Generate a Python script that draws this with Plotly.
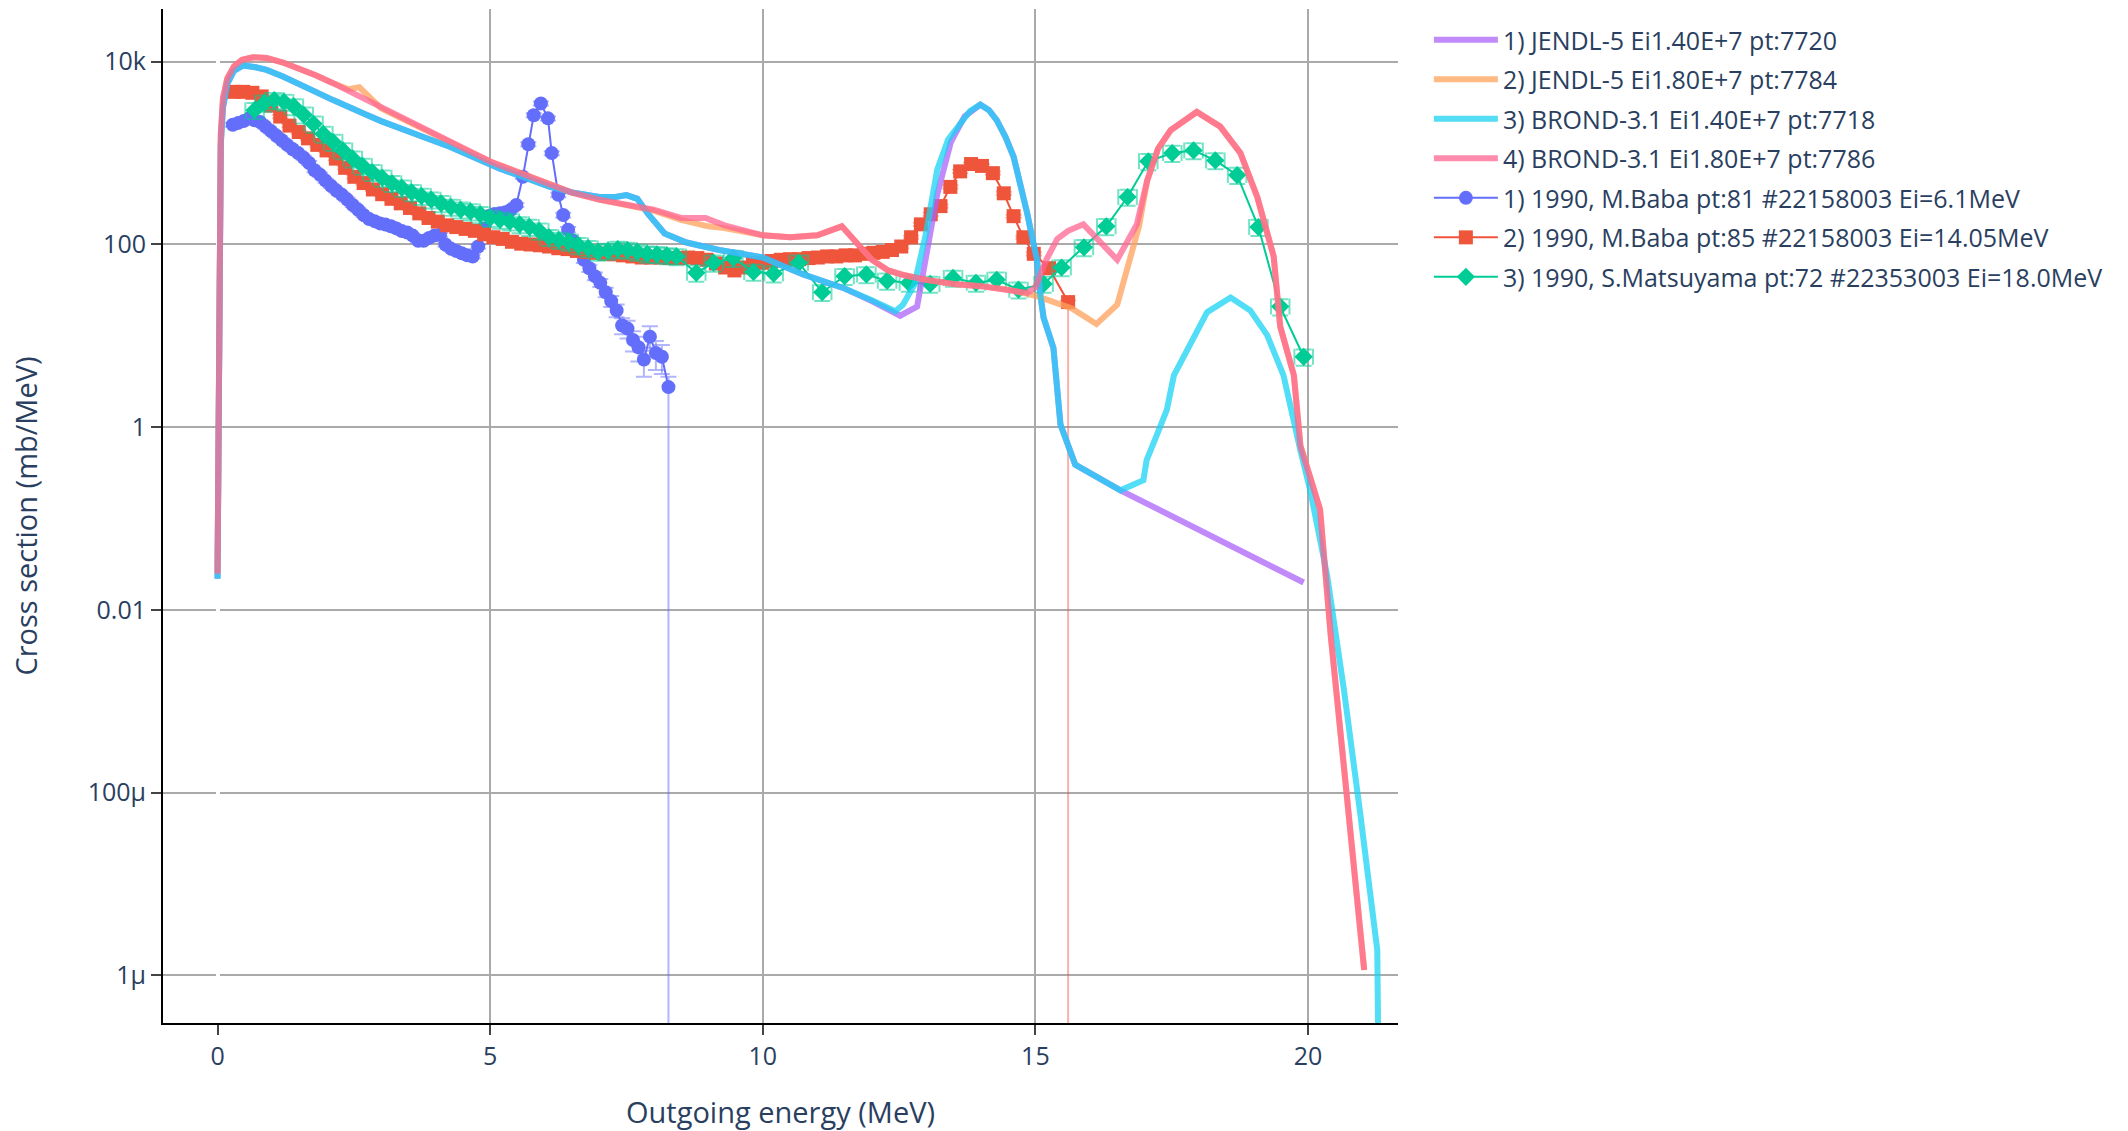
import plotly.graph_objects as go

# ---------------- Evaluated data (outgoing energy MeV, cross section mb/MeV) ----------------
jendl14_x = [0.0, 0.01, 0.02, 0.03, 0.04, 0.06, 0.1, 0.18, 0.3, 0.47, 0.7, 0.9, 1.2, 1.51, 1.8, 2.12, 2.4, 2.73,
             3.0, 3.34, 3.8, 4.26, 4.7, 5.18, 5.6, 6.1, 6.5, 7.0, 7.3, 7.5, 7.7, 7.9, 8.2, 8.6, 9.2, 10.0, 10.74,
             11.5, 12.0, 12.52, 12.83, 13.0, 13.2, 13.45, 13.7, 13.99, 14.15, 14.29, 14.45, 14.6, 14.73, 14.85,
             14.95, 15.03, 15.09, 15.15, 15.33, 15.40, 15.46, 15.73, 16.56, 19.92]
jendl14_y = [0.022, 0.2, 5, 80, 400, 1260, 3160, 5750, 7940, 9100, 8700, 8130, 6900, 5750, 4680, 3800, 3160, 2630,
             2240, 1860, 1480, 1175, 890, 676, 550, 427, 372, 331, 331, 347, 316, 214, 132, 105, 87, 72, 47,
             33, 24, 16.6, 20.9, 71, 355, 1320, 2510, 3390, 2950, 2290, 1510, 912, 447, 219,
             112, 68, 28, 15.8, 7.4, 2.57, 1.07, 0.39, 0.204, 0.02]

jendl18_x = [0.0, 0.01, 0.02, 0.03, 0.04, 0.06, 0.1, 0.18, 0.3, 0.45, 0.65, 0.9, 1.2, 1.5, 1.8, 2.1, 2.4, 2.6, 2.8,
             3.0, 3.4, 3.8, 4.2, 4.6, 5.0, 5.5, 6.0, 6.5, 7.0, 7.5, 8.0, 8.5, 9.0, 9.3, 9.7, 10.0, 10.5, 11.0,
             11.45, 11.7, 12.0, 12.3, 12.6, 13.0, 13.5, 14.0, 14.5, 14.85, 15.0, 15.67, 16.12, 16.5, 16.7, 16.9,
             17.05, 17.25, 17.48, 17.96, 18.39, 18.76, 19.07, 19.37, 19.49, 19.74, 19.86, 20.22, 20.42, 20.72, 21.03]
jendl18_y = [0.025, 0.25, 6.3, 100, 500, 1600, 4000, 6600, 8900, 10500, 11200, 11000, 9800, 8500, 7100, 5900, 5000,
             5250, 4000, 3100, 2350, 1780, 1350, 1050, 810, 620, 480, 370, 310, 270, 235, 186, 158, 151, 136, 126,
             120, 126, 158, 110, 68, 52, 46, 41, 37, 35, 32, 28.8, 27.5, 20, 13.5, 21.9, 56, 158,
             500, 1120, 1780, 2820, 1950, 1000, 330, 74, 12.6, 3.7, 0.63, 0.126, 0.005, 8.3e-5, 1.15e-6]

brond14_x = [0.0, 0.01, 0.02, 0.03, 0.04, 0.06, 0.1, 0.18, 0.3, 0.47, 0.7, 0.9, 1.2, 1.51, 1.8, 2.12, 2.4, 2.73,
             3.0, 3.34, 3.8, 4.26, 4.7, 5.18, 5.6, 6.1, 6.5, 7.0, 7.3, 7.5, 7.7, 7.9, 8.2, 8.6, 9.2, 10.0, 10.74,
             11.5, 12.0, 12.43, 12.57, 12.78, 12.99, 13.2, 13.4, 13.62, 13.8, 13.99, 14.15, 14.29, 14.45, 14.6,
             14.73, 14.85, 14.95, 15.03, 15.09, 15.15, 15.33, 15.40, 15.46, 15.73, 16.56, 16.98, 17.04, 17.23,
             17.41, 17.54, 17.78, 18.15, 18.58, 18.94, 19.25, 19.55, 19.86, 20.04, 20.35, 20.66, 20.96, 21.27, 21.30]
brond14_y = [0.022, 0.2, 5, 80, 400, 1260, 3160, 5750, 7940, 9100, 8700, 8130, 6900, 5750, 4680, 3800, 3160, 2630,
             2240, 1860, 1480, 1175, 890, 676, 550, 427, 372, 331, 331, 347, 316, 214, 132, 105, 87, 72, 47,
             33, 24.5, 18.6, 21.9, 36.3, 129, 660, 1410, 2140, 2880, 3390, 2950, 2290, 1510, 912,
             447, 219, 112, 68, 28, 15.8, 7.4, 2.57, 1.07, 0.39, 0.204, 0.263, 0.437, 0.83,
             1.55, 3.7, 7.1, 18.2, 26.3, 19, 10.2, 3.7, 0.56, 0.204, 0.024, 1.32e-3, 5.75e-5, 1.9e-6, 3.2e-8]

brond18_x = [0.0, 0.01, 0.02, 0.03, 0.04, 0.06, 0.1, 0.18, 0.3, 0.45, 0.65, 0.9, 1.2, 1.5, 1.8, 2.1, 2.4, 2.7,
             3.0, 3.4, 3.8, 4.2, 4.6, 5.0, 5.5, 6.0, 6.5, 7.0, 7.5, 8.0, 8.5, 8.95, 9.3, 9.7, 10.0, 10.5, 11.0,
             11.45, 11.7, 12.0, 12.3, 12.6, 13.0, 13.5, 14.0, 14.5, 14.85, 15.0, 15.2, 15.4, 15.6, 15.88, 16.2,
             16.5, 16.86, 17.05, 17.25, 17.48, 17.96, 18.39, 18.76, 19.07, 19.37, 19.49, 19.74, 19.86, 20.22,
             20.42, 20.72, 21.03]
brond18_y = [0.025, 0.25, 6.3, 100, 500, 1600, 4000, 6600, 8900, 10500, 11200, 11000, 9800, 8500, 7100, 5900, 4800,
             3900, 3100, 2350, 1780, 1350, 1050, 810, 620, 480, 370, 310, 270, 240, 195, 195, 162, 138, 126, 120,
             126, 158, 110, 68, 52, 46, 41, 37, 35, 32, 29.5, 34, 68, 115, 141, 166, 105,
             68, 166, 500, 1120, 1780, 2820, 1950, 1000, 330, 74, 12.6, 3.7, 0.63, 0.126,
             0.005, 8.3e-5, 1.15e-6]

# ---------------- Experimental data ----------------
baba61_x = [0.28, 0.38, 0.48, 0.58, 0.68, 0.78, 0.88, 0.98, 1.08, 1.18, 1.28, 1.38, 1.48, 1.58, 1.68, 1.78, 1.88,
            1.98, 2.08, 2.18, 2.28, 2.38, 2.48, 2.58, 2.68, 2.78, 2.88, 2.98, 3.08, 3.18, 3.28, 3.38, 3.48, 3.58,
            3.68, 3.78, 3.88, 3.98, 4.08, 4.18, 4.28, 4.38, 4.48, 4.58, 4.68, 4.78, 4.88, 4.98, 5.08, 5.18, 5.28,
            5.38, 5.48, 5.60, 5.70, 5.80, 5.93, 6.06, 6.13, 6.25, 6.34, 6.43, 6.52, 6.62, 6.72, 6.82, 6.92, 7.02,
            7.12, 7.22, 7.32, 7.42, 7.52, 7.62, 7.72, 7.82, 7.93, 8.04, 8.15, 8.27]
baba61_y = [2040, 2140, 2240, 2400, 2290, 2190, 1950, 1740, 1550, 1380, 1230, 1100, 1000, 890, 780, 650, 580,
            500, 440, 390, 350, 310, 270, 240, 210, 190, 180, 170, 165, 158, 150, 140, 135, 125,
            110, 110, 118, 125, 128, 100, 90, 85, 80, 76, 74, 95, 150, 205, 215, 220, 225,
            240, 270, 550, 1250, 2600, 3500, 2400, 1000, 350, 210, 145, 110, 85, 68, 55, 45, 38,
            30, 24, 19, 13, 12, 9, 7.5, 5.5, 9.8, 6.5, 5.9, 2.75]
baba61_dy_plus = [0.05] * 59 + [0.06, 0.06, 0.07, 0.07, 0.08, 0.08, 0.09, 0.1, 0.1, 0.12, 0.14, 0.16, 0.2, 0.22,
                                0.25, 0.3, 0.35, 0.3, 0.35, 0.35, 0.3]
baba61_dy_minus = [0.05] * 59 + [0.06, 0.06, 0.07, 0.07, 0.08, 0.08, 0.09, 0.1, 0.1, 0.12, 0.14, 0.16, 0.2, 0.22,
                                 0.25, 0.3, 0.35, 0.3, 0.35, 0.35, 1.2]

baba1405_x = [0.30, 0.47, 0.64, 0.81, 0.98, 1.15, 1.32, 1.49, 1.66, 1.83, 2.00, 2.17, 2.34, 2.51, 2.68, 2.85, 3.02,
              3.19, 3.36, 3.53, 3.70, 3.87, 4.04, 4.21, 4.38, 4.55, 4.72, 4.89, 5.06, 5.23, 5.40, 5.57, 5.74, 5.91,
              6.08, 6.25, 6.42, 6.59, 6.76, 6.93, 7.10, 7.27, 7.44, 7.61, 7.78, 7.95, 8.12, 8.29, 8.46, 8.63, 8.80,
              8.97, 9.14, 9.31, 9.48, 9.65, 9.82, 9.99, 10.16, 10.33, 10.50, 10.67, 10.84, 11.01, 11.18, 11.35,
              11.52, 11.69, 11.86, 12.03, 12.20, 12.37, 12.54, 12.72, 12.90, 13.08, 13.26, 13.44, 13.62, 13.82,
              14.02, 14.22, 14.42, 14.60, 14.78, 14.97, 15.25, 15.60]
baba1405_y = [4680, 4680, 4570, 4170, 3310, 2510, 2000, 1700, 1450, 1230, 1070, 870, 690, 550, 470, 400, 355,
              316, 282, 251, 219, 195, 178, 162, 155, 148, 141, 129, 120, 115, 107, 102, 100, 98,
              95, 91, 89, 85, 83, 81, 79, 78, 76, 74, 72, 72, 72, 71, 71, 72, 71,
              68, 62, 56, 52, 56, 62, 63, 66, 68, 69, 69, 71, 72, 74, 74,
              76, 76, 79, 81, 83, 87, 95, 120, 166, 214, 263, 427, 631, 759,
              724, 603, 363, 204, 120, 79, 55, 23.4]
baba1405_dy_plus = [0.04] * 88
baba1405_dy_minus = [0.04] * 87 + [1.3]

mats18_x = [0.68, 0.86, 1.04, 1.22, 1.40, 1.58, 1.76, 1.94, 2.12, 2.30, 2.48, 2.66, 2.84, 3.02, 3.20, 3.38, 3.56,
            3.74, 3.92, 4.10, 4.28, 4.46, 4.64, 4.82, 5.00, 5.18, 5.36, 5.54, 5.72, 5.90, 6.08, 6.26, 6.44, 6.62,
            6.80, 6.98, 7.16, 7.34, 7.52, 7.70, 7.88, 8.06, 8.24, 8.42, 8.78, 9.10, 9.46, 9.83, 10.20, 10.66,
            11.09, 11.50, 11.90, 12.28, 12.68, 13.07, 13.49, 13.91, 14.29, 14.69, 15.15, 15.48, 15.89, 16.30,
            16.69, 17.07, 17.51, 17.90, 18.30, 18.70, 19.09, 19.49, 19.92]
mats18_y = [2950, 3550, 3800, 3630, 3240, 2630, 2090, 1620, 1320, 1070, 870, 724, 617, 537, 468, 417, 372,
            339, 309, 282, 257, 240, 229, 214, 195, 186, 178, 166, 155, 141, 120, 112, 107, 98,
            91, 83, 85, 89, 87, 83, 79, 78, 76, 74, 49, 63, 71, 50, 48, 63,
            30, 45, 47, 40, 38, 37, 43, 38, 41, 32, 37, 56, 93, 158,
            331, 813, 1000, 1070, 832, 575, 155, 20.9, 5.9]
mats18_dx = 0.17
mats18_dy_pct = 20

# ---------------- Figure ----------------
fig = go.Figure()


def rel_to_abs(vals, rel):
    return [v * r for v, r in zip(vals, rel)]


exp_specs = [
    (baba61_x, baba61_y, "1) 1990, M.Baba pt:81 #22158003 Ei=6.1MeV", "#636EFA", "circle",
     dict(type="data", array=rel_to_abs(baba61_y, baba61_dy_plus), arrayminus=rel_to_abs(baba61_y, baba61_dy_minus),
          color="rgba(99,110,250,0.5)", thickness=2, width=8), None, 5),
    (baba1405_x, baba1405_y, "2) 1990, M.Baba pt:85 #22158003 Ei=14.05MeV", "#EF553B", "square",
     dict(type="data", array=rel_to_abs(baba1405_y, baba1405_dy_plus),
          arrayminus=rel_to_abs(baba1405_y, baba1405_dy_minus),
          color="rgba(239,85,59,0.45)", thickness=2, width=8), None, 6),
    (mats18_x, mats18_y, "3) 1990, S.Matsuyama pt:72 #22353003 Ei=18.0MeV", "#00CC96", "diamond",
     dict(type="percent", value=mats18_dy_pct, color="rgba(0,204,150,0.55)", thickness=2, width=8),
     dict(type="constant", value=mats18_dx, color="rgba(0,204,150,0.55)", thickness=2, width=8), 7),
]

for xs, ys, name, col, sym, ey, ex, rank in exp_specs:
    kw = dict(error_y=ey)
    if ex is not None:
        kw["error_x"] = ex
    fig.add_trace(go.Scatter(
        x=xs, y=ys, name=name, mode="lines+markers",
        line=dict(color=col, width=2),
        marker=dict(color=col, symbol=sym, size=14),
        legendrank=rank, legendgroup=name,
        **kw))

eval_specs = [
    (jendl14_x, jendl14_y, "1) JENDL-5 Ei1.40E+7 pt:7720", "#AB63FA", 1),
    (jendl18_x, jendl18_y, "2) JENDL-5 Ei1.80E+7 pt:7784", "#FFA15A", 2),
    (brond14_x, brond14_y, "3) BROND-3.1 Ei1.40E+7 pt:7718", "#19D3F3", 3),
    (brond18_x, brond18_y, "4) BROND-3.1 Ei1.80E+7 pt:7786", "#FF6692", 4),
]
for xs, ys, name, col, rank in eval_specs:
    fig.add_trace(go.Scatter(
        x=xs, y=ys, name=name, mode="lines",
        line=dict(color=col, width=6), opacity=0.75,
        legendrank=rank, legendgroup=name))

axis_common = dict(
    showgrid=True, gridcolor="#aaaaaa", gridwidth=2,
    showline=True, linecolor="black", linewidth=2,
    ticks="outside", ticklen=10, tickwidth=2, tickcolor="#444444",
    tickfont=dict(size=25, color="#2a3f5f"),
)

fig.update_layout(
    width=2128, height=1131,
    margin=dict(l=163, r=730, t=9, b=108, autoexpand=False),
    paper_bgcolor="white", plot_bgcolor="white",
    font=dict(family="Open Sans, sans-serif", size=25, color="#2a3f5f"),
    showlegend=True,
    legend=dict(x=1.025, y=0.992, xanchor="left", yanchor="top", itemwidth=64,
                tracegroupgap=4, font=dict(size=25, color="#2a3f5f"), bgcolor="rgba(0,0,0,0)"),
    xaxis=dict(range=[-1.0, 21.65], dtick=5, tick0=0,
               zeroline=True, zerolinecolor="white", zerolinewidth=4,
               title=dict(text="Outgoing energy (MeV)", font=dict(size=29, color="#2a3f5f"), standoff=34),
               **axis_common),
    yaxis=dict(type="log", range=[-6.52, 4.577], dtick=2,
               title=dict(text="Cross section (mb/MeV)", font=dict(size=29, color="#2a3f5f"), standoff=42),
               **axis_common),
)

fig.write_html("out.html", config={"displayModeBar": False},
               post_script="document.body.style.margin='0px';document.body.style.overflow='hidden';")
